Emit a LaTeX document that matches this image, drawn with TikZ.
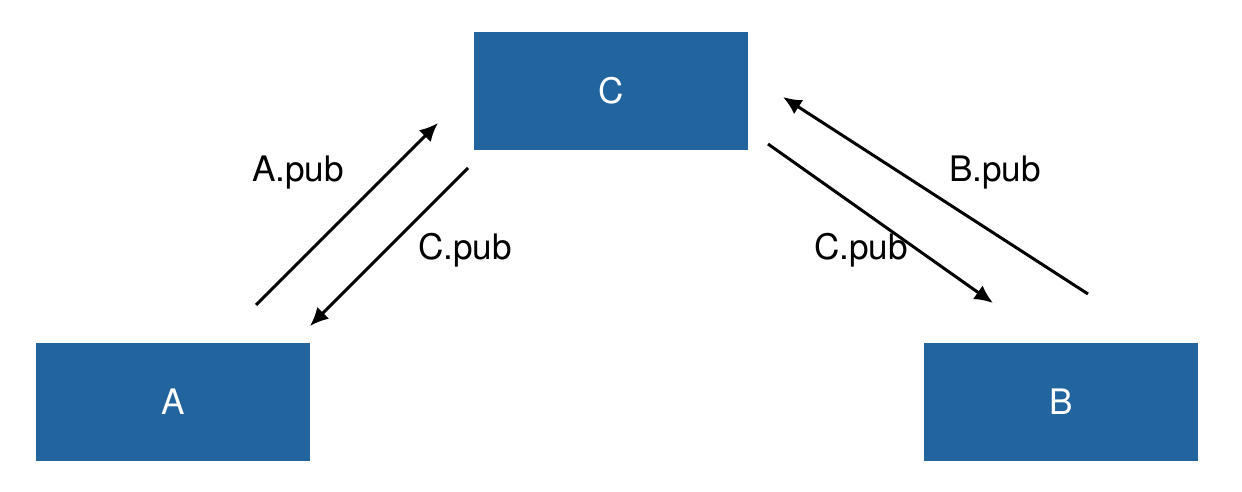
\documentclass[tikz,border=0pt]{standalone}
\usepackage{fontspec}
\setmainfont{TeX Gyre Heros}
\usetikzlibrary{arrows.meta}
\definecolor{keyBlue}{HTML}{22659E}
\newcommand{\lblSize}{\fontsize{20}{24}\selectfont}

\begin{document}
\begin{tikzpicture}[x=0.02cm, y=-0.02cm,
		party/.style = {fill=keyBlue, draw=none, minimum width=5.48cm, minimum height=2.36cm, inner sep=0pt, text=white, font=\lblSize},
		keyLbl/.style = {font=\lblSize, inner sep=0pt},
		flow/.style = {line width=1.7pt, -{Latex[length=10.5pt, width=9.5pt]}}
	]

		% frame
		\useasboundingbox (0,0) rectangle (1242,492);

		% parties
		\node[party] (C) at (611, 91) {C};
		\node[party] (A) at (173, 402) {A};
		\node[party] (B) at (1061, 402) {B};

		% arrow ends
		\coordinate (aFrom) at (256, 305);
		\coordinate (aTo) at (438, 123);
		\coordinate (cLeftFrom) at (468, 168);
		\coordinate (cLeftTo) at (310, 326);
		\coordinate (cRightFrom) at (768, 144);
		\coordinate (cRightTo) at (993, 303);
		\coordinate (bFrom) at (1088, 294);
		\coordinate (bTo) at (783, 97);

		% A <-> C
		\draw[flow] (aFrom) -- (aTo);
		\draw[flow] (cLeftFrom) -- (cLeftTo);

		% B <-> C
		\draw[flow] (cRightFrom) -- (cRightTo);
		\draw[flow] (bFrom) -- (bTo);

		% labels
		\node[keyLbl] (aPub) at (298, 173) {A.pub};
		\node[keyLbl] (cPubLeft) at (465, 250) {C.pub};
		\node[keyLbl] (cPubRight) at (861, 250) {C.pub};
		\node[keyLbl] (bPub) at (995, 173) {B.pub};

	\end{tikzpicture}
\end{document}
